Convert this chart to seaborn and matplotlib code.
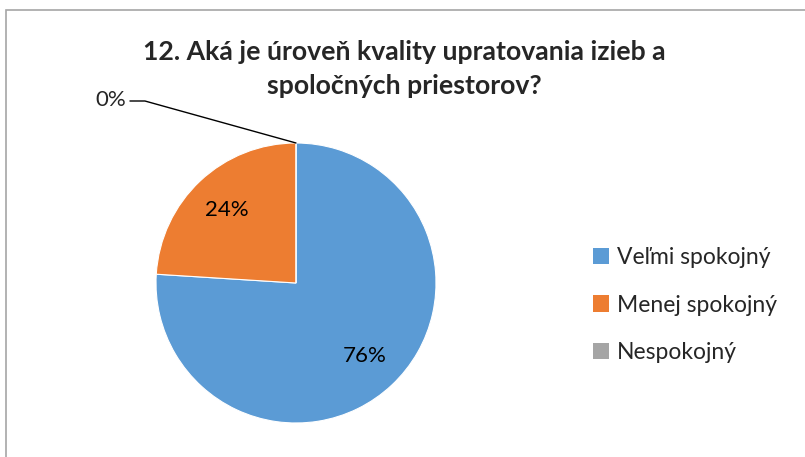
import matplotlib
matplotlib.use("Agg")
import matplotlib.pyplot as plt
from matplotlib.patches import Rectangle, Patch
import numpy as np
import seaborn as sns

# data
categories = ["Veľmi spokojný", "Menej spokojný", "Nespokojný"]
shares = [76, 24, 0]
colors = ["#5B9BD5", "#ED7D31", "#A5A5A5"]
title = "12. Aká je úroveň kvality upratovania izieb a\nspoločných priestorov?"

sns.set_style("white")
plt.rcParams["font.family"] = ["Lato", "DejaVu Sans"]

fig = plt.figure(figsize=(8.05, 4.57), dpi=100)
W, H = 805, 457

# chart border like the office chart frame
fig.patches.append(Rectangle((6 / W, -0.1), 1.2, 1 - 10 / H + 0.1, transform=fig.transFigure,
                             fill=False, edgecolor="#a6a6a6", linewidth=1.2))

cx, cy, r = 296, 283, 140
ax = fig.add_axes([(cx - r) / W, (H - cy - r) / H, 2 * r / W, 2 * r / H])

wedges, texts, autotexts = ax.pie(
    shares, colors=colors, startangle=90, counterclock=False,
    autopct=lambda p: f"{p:.0f}%" if p > 0 else "", pctdistance=0.72,
    wedgeprops=dict(edgecolor="white", linewidth=0.8),
    textprops=dict(fontsize=16, color="black"), radius=1,
)
ax.set_xlim(-1, 1)
ax.set_ylim(-1, 1)
ax.set_aspect("equal")
ax.axis("off")

# leader line for the zero slice
ang = np.deg2rad(wedges[2].theta1)
px, py = np.cos(ang), np.sin(ang)
ax.plot([px, -1.079, -1.186], [py, 1.3, 1.3], color="black", lw=1, clip_on=False)
ax.text(-1.215, 1.31, f"{shares[2]}%", ha="right", va="center", fontsize=16, clip_on=False)

fig.text(0.502, 0.849, title, ha="center", va="center", fontsize=19.2,
         fontweight="bold", linespacing=1.5)

handles = [Patch(facecolor=c, edgecolor="none") for c in colors]
fig.legend(handles, categories, loc="center left", bbox_to_anchor=(572 / W, 1 - 305 / H),
           frameon=False, fontsize=16.5, handlelength=0.7, handleheight=0.7,
           handletextpad=0.35, labelspacing=1.15)

fig.savefig("out.png", dpi=100)
